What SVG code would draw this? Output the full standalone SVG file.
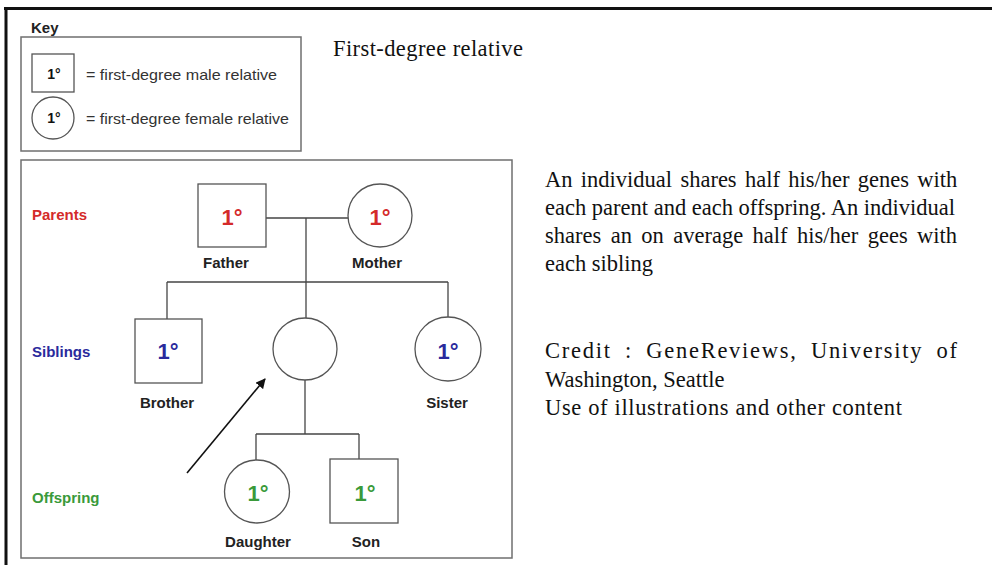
<svg xmlns="http://www.w3.org/2000/svg" width="992" height="565" viewBox="0 0 992 565">
<defs>
<marker id="ah" viewBox="0 0 10 10" refX="9" refY="5" markerWidth="10" markerHeight="10" markerUnits="userSpaceOnUse" orient="auto">
<path d="M0,0 L10,5 L0,10 z" fill="#111"/>
</marker>
</defs>
<style>
.box{fill:none;stroke:#6f6f6f;stroke-width:1.5}
.sh{fill:#fff;stroke:#555;stroke-width:1.3}
.ln{fill:none;stroke:#444;stroke-width:1.3}
.lab{font-family:"Liberation Sans",Arial,sans-serif;font-weight:bold;font-size:15px;fill:#222}
.deg{font-family:"Liberation Sans",Arial,sans-serif;font-weight:bold;font-size:22px;text-anchor:middle}
.kdeg{font-family:"Liberation Sans",Arial,sans-serif;font-weight:bold;font-size:14px;text-anchor:middle;fill:#111}
.ktxt{font-family:"Liberation Sans",Arial,sans-serif;font-size:14.5px;fill:#333}
.ser{font-family:"Liberation Serif","Times New Roman",serif;font-size:22.5px;fill:#111}
.red{fill:#d42a2a}.blue{fill:#2a2a9c}.green{fill:#3a9a3a}
</style>
<rect width="992" height="565" fill="#fff"/>
<g id="frame">
<line x1="4" y1="8.5" x2="992" y2="8.5" stroke="#111" stroke-width="3"/>
<line x1="6" y1="7" x2="6" y2="565" stroke="#111" stroke-width="3"/>
</g>
<g id="key">
<text class="lab" x="31" y="33" font-size="14">Key</text>
<rect class="box" x="21" y="37" width="280" height="114"/>
<rect class="sh" x="32" y="54" width="42" height="38"/>
<text class="kdeg" x="54" y="79">1°</text>
<ellipse class="sh" cx="53" cy="118" rx="21" ry="21"/>
<text class="kdeg" x="54" y="123">1°</text>
<text class="ktxt" x="86" y="80" textLength="191" lengthAdjust="spacingAndGlyphs">= first-degree male relative</text>
<text class="ktxt" x="86" y="124" textLength="203" lengthAdjust="spacingAndGlyphs">= first-degree female relative</text>
</g>
<rect class="box" x="21" y="160" width="491" height="398"/>
<g id="rows">
<text class="lab red" x="32" y="220">Parents</text>
<text class="lab blue" x="32" y="357">Siblings</text>
<text class="lab green" x="32" y="503">Offspring</text>
</g>
<g id="connectors">
<line class="ln" x1="266" y1="218" x2="348" y2="218"/>
<line class="ln" x1="306" y1="218" x2="306" y2="318"/>
<line class="ln" x1="167" y1="282" x2="448" y2="282"/>
<line class="ln" x1="167" y1="282" x2="167" y2="319"/>
<line class="ln" x1="448" y1="282" x2="448" y2="317"/>
<line class="ln" x1="305" y1="380" x2="305" y2="434"/>
<line class="ln" x1="256" y1="434" x2="359" y2="434"/>
<line class="ln" x1="256" y1="434" x2="256" y2="460"/>
<line class="ln" x1="359" y1="434" x2="359" y2="459"/>
<line x1="187" y1="473" x2="265" y2="379" stroke="#111" stroke-width="1.6" marker-end="url(#ah)"/>
</g>
<g id="father">
<rect class="sh" x="198" y="184" width="68" height="63"/>
<text class="deg red" x="232" y="225">1°</text>
<text class="lab" x="226" y="268" text-anchor="middle">Father</text>
</g>
<g id="mother">
<ellipse class="sh" cx="380" cy="215.5" rx="32" ry="31.5"/>
<text class="deg red" x="380" y="225">1°</text>
<text class="lab" x="377" y="268" text-anchor="middle">Mother</text>
</g>
<g id="brother">
<rect class="sh" x="135" y="319" width="67" height="64"/>
<text class="deg blue" x="168" y="359">1°</text>
<text class="lab" x="167" y="408" text-anchor="middle">Brother</text>
</g>
<g id="proband">
<ellipse class="sh" cx="305" cy="349" rx="32" ry="31"/>
</g>
<g id="sister">
<ellipse class="sh" cx="448" cy="349" rx="33" ry="32"/>
<text class="deg blue" x="448" y="359">1°</text>
<text class="lab" x="447" y="408" text-anchor="middle">Sister</text>
</g>
<g id="daughter">
<ellipse class="sh" cx="257" cy="491.5" rx="32.5" ry="31.5"/>
<text class="deg green" x="258" y="501">1°</text>
<text class="lab" x="258" y="547" text-anchor="middle">Daughter</text>
</g>
<g id="son">
<rect class="sh" x="330" y="459" width="68" height="64"/>
<text class="deg green" x="365" y="501">1°</text>
<text class="lab" x="366" y="547" text-anchor="middle">Son</text>
</g>
<g id="notes">
<text class="ser" x="333" y="56" font-size="19" textLength="190" lengthAdjust="spacing">First-degree relative</text>
<text class="ser" x="545" y="187" word-spacing="2.7">An individual shares half his/her genes with</text>
<text class="ser" x="545" y="215">each parent and each offspring. An individual</text>
<text class="ser" x="545" y="243" word-spacing="3.8">shares an on average half his/her gees with</text>
<text class="ser" x="545" y="271">each sibling</text>
<text class="ser" x="545" y="358" word-spacing="6" textLength="412" lengthAdjust="spacing">Credit : GeneReviews, University of</text>
<text class="ser" x="545" y="387">Washington, Seattle</text>
<text class="ser" x="545" y="415" textLength="357" lengthAdjust="spacing">Use of illustrations and other content</text>
</g>
</svg>
